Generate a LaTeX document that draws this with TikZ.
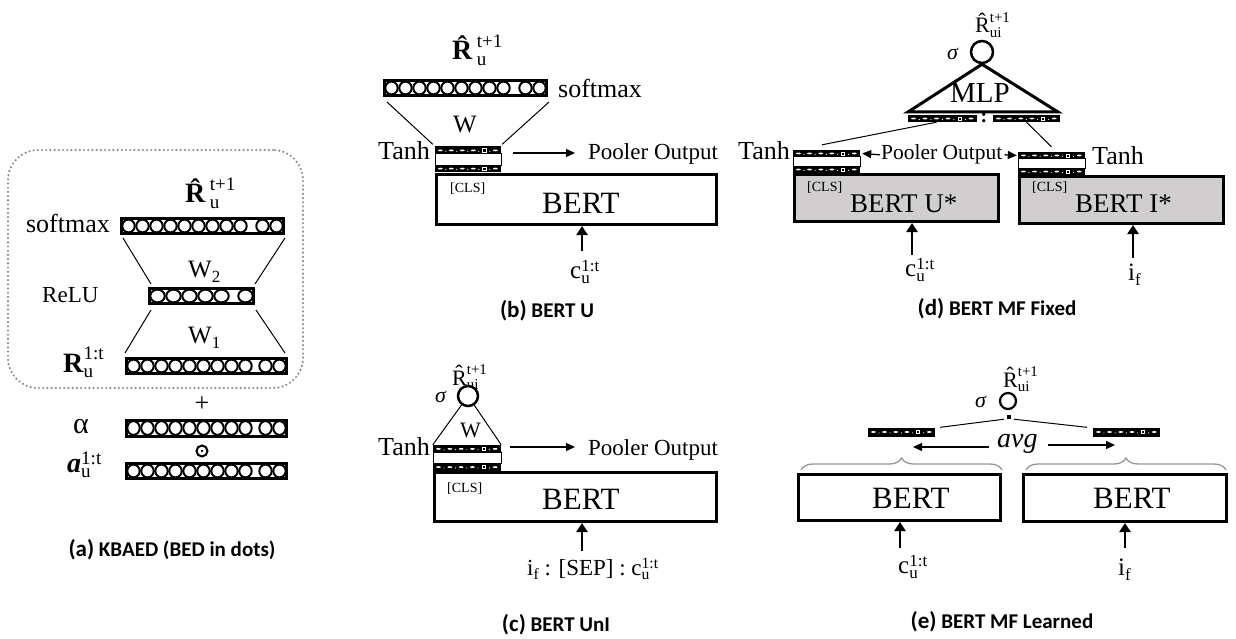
\documentclass[tikz,border=0pt]{standalone}
\usepackage{fontspec}
\usepackage{graphicx}
\setmainfont{Liberation Serif}
\newfontfamily\capfont{Carlito}
\usetikzlibrary{arrows.meta,decorations.pathreplacing,calc}
\newsavebox\ssupbox
\newsavebox\ssubbox
\newsavebox\ssbase
\newlength\sswid
\newcommand\supsub[4][]{%
  \sbox\ssbase{\ifx\relax#1\relax #2\else #1\fi}%
  #2%
  \sbox\ssupbox{\scalebox{0.68}{#4}}%
  \sbox\ssubbox{\scalebox{0.68}{#3}}%
  \ifdim\wd\ssupbox>\wd\ssubbox \setlength\sswid{\wd\ssupbox}\else\setlength\sswid{\wd\ssubbox}\fi
  \hbox to \sswid{\rlap{\raisebox{\dimexpr\ht\ssbase-0.2em\relax}{\usebox\ssupbox}}\raisebox{-0.2em}{\usebox\ssubbox}\hfil}}
\newcommand\fs[1]{\fontsize{#1}{#1}\selectfont}
% circle bar: name cx cy w h n1 n2 pitch
\newcommand\cbar[8]{%
  \node[cbarbox, minimum width={(#4-3)*1pt}, minimum height={(#5-3)*1pt}] (#1) at (#2,#3) {};
  \foreach \k in {1,...,#6}{\draw[bubble] ($(#1.west)+({1.5+(\k-0.5)*#8},0)$) ellipse [x radius={(#8/2-0.8)*1pt}, y radius={(#5/2-2.6)*1pt}];}
  \foreach \k in {1,...,#7}{\draw[bubble] ($(#1.east)+({-1.5-(\k-0.5)*#8},0)$) ellipse [x radius={(#8/2-0.8)*1pt}, y radius={(#5/2-2.6)*1pt}];}
}
% dark strip: name cx cy w h
\newcommand\dstrip[5]{%
  \node[dbox, minimum width=#4pt, minimum height=#5pt] (#1) at ({#2},{#3}) {};
  \foreach \k in {0,1,2,3,5}{\fill[white] ($(#1.west)+({(\k+0.5)*#4/6},0)$) ellipse [x radius=2.4pt, y radius=0.9pt];}
  \foreach \k in {1,...,5}{\fill[white] ($(#1.west)+({\k*#4/6},0.9)$) circle [radius=0.6pt];}
  \draw[white, line width=0.6pt] ($(#1.west)+({4.5*#4/6},0)$) +(-1.6pt,-1.6pt) rectangle +(1.6pt,1.6pt);
}
% pooler stack: name cx ytop w H
\newcommand\pstack[5]{%
  \pgfmathsetmacro\psh{0.3*#5}%
  \node[pmid, minimum width=#4pt, minimum height={(0.4*#5+1)*1pt}] (#1-mid) at ({#2},{#3+#5/2}) {};
  \dstrip{#1-top}{#2}{#3+\psh/2}{#4}{\psh}
  \dstrip{#1-bot}{#2}{#3+#5-\psh/2}{#4}{\psh}
}
% box: name x1 y1 x2 y2 style
\newcommand\bx[6]{%
  \node[bbox, #6, minimum width={(#4-#2-3)*1pt}, minimum height={(#5-#3-3)*1pt}] (#1) at ({(#2+#4)/2},{(#3+#5)/2}) {};
}
\begin{document}
\begin{tikzpicture}[x=1pt,y=-1pt,
  cbarbox/.style={draw, line width=3pt, fill=white, inner sep=0pt, rectangle},
  bubble/.style={draw=black, fill=white, line width=2pt},
  dbox/.style={fill=black, inner sep=0pt, rectangle},
  pmid/.style={draw, line width=1pt, fill=white, inner sep=0pt, rectangle},
  bbox/.style={draw, line width=3pt, fill=white, inner sep=0pt, rectangle},
  grayfill/.style={fill={rgb,255:red,208;green,206;blue,206}},
  lab/.style={inner sep=0pt, font=\fs{25}},
  slab/.style={inner sep=0pt, font=\fs{22}},
  plab/.style={inner sep=0pt, font=\fs{23}},
  blab/.style={inner sep=0pt, font=\fs{31}},
  clab/.style={inner sep=0pt, font=\fs{14}},
  captxt/.style={inner sep=0pt, font=\capfont\bfseries\fs{21}},
  thinline/.style={line width=1pt},
  uparr/.style={line width=2.8pt, -{Triangle[length=9pt, width=11pt]}},
  parr/.style={line width=1.3pt, -{Triangle[length=9pt, width=8pt]}},
  circ/.style={circle, draw, line width=2.5pt, inner sep=0pt, fill=white},
  dotbox/.style={draw={rgb,255:red,140;green,140;blue,140}, line width=2.4pt, line cap=round, dash pattern=on 0pt off 4.2pt, rounded corners=30pt, inner sep=0pt, rectangle},
  brc/.style={draw={rgb,255:red,150;green,150;blue,150}, line width=1.3pt, decorate, decoration={brace, amplitude=12pt, aspect=0.5}}
]
\useasboundingbox (0,0) rectangle (1236,639);

% ================= (a) =================
\node[dotbox, minimum width=295pt, minimum height=238pt] (aBed) at (155.5,269) {};
\cbar{aSm}{202.5}{226}{165}{18}{9}{2}{14}
\cbar{aRelu}{201.5}{296}{107}{18}{5}{1}{16}
\cbar{aR}{206.5}{366}{163}{18}{9}{2}{14}
\cbar{aAl}{206.5}{428}{163}{19}{9}{2}{14}
\cbar{aA}{206.5}{471}{163}{18}{9}{2}{14}
\node[lab, font=\fs{28}, anchor=base west] (aRhat) at (185,203) {\supsub[\textbf{R}]{\textbf{\^{R}}}{u}{t+1}};
\node[lab, font=\fs{26}, anchor=base east] (aSmT) at (110,232) {softmax};
\node[lab, anchor=base west] (aW2) at (188,277) {\supsub{W}{2}{}};
\node[lab, font=\fs{23}, anchor=base west] (aReluT) at (42,302) {ReLU};
\node[lab, anchor=base west] (aW1) at (188,343) {\supsub{W}{1}{}};
\node[lab, font=\fs{28}, anchor=base west] (aRT) at (63,372) {\supsub{\textbf{R}}{u}{1:t}};
\node[lab, font=\fs{26}] (aPlus) at (202,404) {+};
\node[lab, font=\fs{30}, anchor=base west] (aAlT) at (73,433) {α};
\node[circle, draw, line width=2pt, minimum size=11pt, inner sep=0pt, fill=white] (aOd) at (202,451) {};
\fill (aOd.center) circle [radius=1.3pt];
\node[lab, font=\fs{28}, anchor=base west] (aAT) at (67,472) {\supsub{\textbf{\textit{a}}}{u}{1:t}};
\draw[thinline] ([shift={(3pt,-3pt)}]aSm.south west) -- ([shift={(3pt,3pt)}]aRelu.north west);
\draw[thinline] ([shift={(0pt,-3pt)}]aSm.south east) -- ([shift={(0pt,3pt)}]aRelu.north east);
\draw[thinline] ([shift={(3pt,-5pt)}]aRelu.south west) -- ([shift={(0pt,4pt)}]aR.north west);
\draw[thinline] ([shift={(1pt,-5pt)}]aRelu.south east) -- ([shift={(-3pt,4pt)}]aR.north east);
\node[captxt, anchor=base] (aCap) at (172,556) {{\fs{23}(a)} KBAED (BED in dots)};

% ================= (b) =================
\node[lab, font=\fs{28}, anchor=base west] (bRhat) at (452,60) {\supsub[\textbf{R}]{\textbf{\^{R}}}{u}{t+1}};
\cbar{bSm}{465.5}{88}{165}{18}{9}{2}{14}
\node[lab, font=\fs{26}, anchor=base west] (bSmT) at (558,98) {softmax};
\node[lab, anchor=base west] (bW) at (453,133) {W};
\pstack{bP}{468}{146.5}{66}{26}
\node[lab, font=\fs{26}, anchor=base east] (bTanh) at (430,160) {Tanh};
\node[plab, anchor=base west] (bPool) at (588,160) {Pooler Output};
\draw[thinline] ([shift={(4pt,-5pt)}]bSm.south west) -- ([shift={(-2pt,2pt)}]bP-top.north west);
\draw[thinline] ([shift={(1pt,-5pt)}]bSm.south east) -- ([shift={(1pt,2pt)}]bP-top.north east);
\coordinate (bPs) at (513,153);
\coordinate (bPe) at (575,153);
\draw[parr] (bPs) -- (bPe);
\bx{bBox}{435}{173}{718}{226}{}
\node[clab, anchor=base west] (bCls) at (450,193) {[CLS]};
\node[blab, anchor=base west] (bBert) at (542,214) {BERT};
\node[lab, anchor=base west] (bC) at (570,278) {\supsub{c}{u}{1:t}};
\coordinate (bIn) at (582,251);
\draw[uparr] (bIn) -- (bIn |- bBox.south);
\node[captxt, anchor=base] (bCap) at (547,317) {{\fs{23}(b)} BERT U};

% ================= (c) =================
\node[slab, anchor=base west] (cRhat) at (452,385) {\supsub[R]{\^{R}}{ui}{t+1}};
\node[slab, anchor=base west] (cSig) at (435,402) {\textit{σ}};
\node[circ, minimum size=20pt] (cCirc) at (468,396) {};
\node[slab, anchor=base west] (cW) at (460,437) {W};
\pstack{cP}{467}{445}{68}{26}
\draw[thinline] (cCirc) -- (cP-top.north west);
\draw[thinline] (cCirc) -- (cP-top.north east);
\node[lab, font=\fs{26}, anchor=base east] (cTanh) at (430,455) {Tanh};
\node[plab, anchor=base west] (cPool) at (588,455) {Pooler Output};
\coordinate (cPs) at (510,447);
\coordinate (cPe) at (575,447);
\draw[parr] (cPs) -- (cPe);
\bx{cBox}{433}{471}{718}{523}{}
\node[clab, anchor=base west] (cCls) at (447,492) {[CLS]};
\node[blab, anchor=base west] (cBert) at (542,509) {BERT};
\coordinate (cIn) at (582,551);
\draw[uparr] (cIn) -- (cIn |- cBox.south);
\node[lab, font=\fs{23}, anchor=base west] (cInT) at (527,575) {\supsub{i}{f}{} : [SEP] : \supsub{c}{u}{1:t}};
\node[captxt, anchor=base] (cCap) at (556,631) {{\fs{23}(c)} BERT UnI};

% ================= (d) =================
\node[slab, anchor=base west] (dRhat) at (975,33) {\supsub[R]{\^{R}}{ui}{t+1}};
\node[slab, anchor=base west] (dSig) at (947,60) {\textit{σ}};
\node[circ, minimum size=22pt] (dCirc) at (982,52) {};
\coordinate (dTL) at (908,112);
\coordinate (dTR) at (1058,112);
\draw[line width=3pt, line join=miter] (dCirc.south) -- (dTL) -- (dTR) -- cycle;
\node[lab, font=\fs{29}, anchor=base west] (dMlp) at (950,103) {MLP};
\dstrip{dML}{942.5}{118.5}{69}{7}
\dstrip{dMR}{1026.5}{118.5}{67}{7}
\node[slab, font=\bfseries\fs{20}] (dColon) at (984,118) {:};
\pstack{dL}{826.5}{150}{67}{23}
\pstack{dR}{1051.5}{152}{67}{23}
\draw[thinline] ([xshift=-6pt]dML.south) -- ([shift={(-4.5pt,5pt)}]dL-top.north);
\draw[thinline] (dMR.south) -- ([shift={(0pt,5pt)}]dR-top.north);
\node[lab, font=\fs{26}, anchor=base east] (dTanhL) at (790,160) {Tanh};
\node[lab, font=\fs{26}, anchor=base west] (dTanhR) at (1092,165) {Tanh};
\node[plab, font=\fs{21.5}, anchor=base west] (dPool) at (881,160) {Pooler Output};
\draw[parr] ([xshift=-1pt]dPool.west) -- ([xshift=2pt]dL-top.east);
\draw[parr] ([xshift=2pt]dPool.east) -- ([xshift=-1pt]dR-top.west);
\bx{dBoxL}{793}{173}{1000}{223}{grayfill}
\bx{dBoxR}{1018}{175}{1225}{225}{grayfill}
\node[clab, anchor=base west] (dClsL) at (807,192) {[CLS]};
\node[clab, anchor=base west] (dClsR) at (1032,192) {[CLS]};
\node[lab, font=\fs{27}, anchor=base west] (dBertU) at (850,212) {BERT U*};
\node[lab, font=\fs{27}, anchor=base west] (dBertI) at (1075,212) {BERT I*};
\coordinate (dInL) at (912,255);
\coordinate (dInR) at (1133,258);
\draw[uparr] (dInL) -- (dInL |- dBoxL.south);
\draw[uparr] (dInR) -- (dInR |- dBoxR.south);
\node[lab, anchor=base west] (dC) at (905,276) {\supsub{c}{u}{1:t}};
\node[lab, anchor=base west] (dI) at (1128,280) {\supsub{i}{f}{}};
\node[captxt, anchor=base] (dCap) at (997,315) {{\fs{23}(d)} BERT MF Fixed};

% ================= (e) =================
\node[slab, anchor=base west] (eRhat) at (1003,387) {\supsub[R]{\^{R}}{ui}{t+1}};
\node[slab, anchor=base west] (eSig) at (975,407) {\textit{σ}};
\node[circ, line width=2.2pt, minimum size=16pt] (eCirc) at (1008,401) {};
\node[fill=black, inner sep=0pt, minimum size=4pt] (eSq) at (1009,417) {};
\dstrip{eL}{901.5}{432}{67}{9}
\dstrip{eR}{1126.5}{432}{67}{9}
\draw[thinline] ([xshift=-5pt]eSq.south) -- ([xshift=5pt]eL.north east);
\draw[thinline] ([xshift=5pt]eSq.south) -- ([xshift=-6pt]eR.north west);
\node[lab, font=\itshape\fs{28}, anchor=base west] (eAvg) at (997,447) {avg};
\coordinate (eAl) at (913,447);
\coordinate (eAr) at (1115,445);
\draw[parr] ([shift={(-8pt,0pt)}]eAvg.west |- eAl) -- (eAl);
\draw[parr] ([shift={(10pt,0pt)}]eAvg.east |- eAr) -- (eAr);
\bx{eBoxL}{797}{473}{1002}{522}{}
\bx{eBoxR}{1022}{473}{1228}{523}{}
\draw[brc] ([shift={(4pt,3pt)}]eBoxL.north west) -- ([shift={(0pt,3pt)}]eBoxL.north east);
\draw[brc] ([shift={(4pt,3pt)}]eBoxR.north west) -- ([shift={(-2pt,3pt)}]eBoxR.north east);
\node[blab, anchor=base west] (eBertL) at (872,508) {BERT};
\node[blab, anchor=base west] (eBertR) at (1093,508) {BERT};
\coordinate (eInL) at (900,548);
\coordinate (eInR) at (1125,548);
\draw[uparr] (eInL) -- (eInL |- eBoxL.south);
\draw[uparr] (eInR) -- (eInR |- eBoxR.south);
\node[lab, anchor=base west] (eC) at (898,573) {\supsub{c}{u}{1:t}};
\node[lab, anchor=base west] (eI) at (1118,575) {\supsub{i}{f}{}};
\node[captxt, anchor=base] (eCap) at (1002,628) {{\fs{23}(e)} BERT MF Learned};
\end{tikzpicture}
\end{document}
